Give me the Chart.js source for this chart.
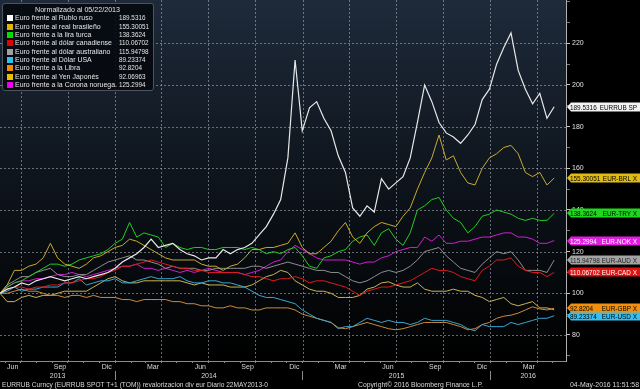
<!DOCTYPE html>
<html lang="es"><head><meta charset="utf-8">
<title>EURRUB revalorizacion</title>
<script src="https://cdn.jsdelivr.net/npm/chart.js@4.4.1/dist/chart.umd.min.js"></script>
<style>
html,body{margin:0;padding:0;background:#000;overflow:hidden}
#wrap{position:relative;width:640px;height:389px;background:#000;font-family:"Liberation Sans",Arial,sans-serif}
#c{position:absolute;left:0;top:0;width:640px;height:389px}
.t{position:absolute;white-space:nowrap;color:#e4e4e4;line-height:10px;transform-origin:0 50%}
#legend{position:absolute;left:2px;top:3px;width:152px;height:88px;background:rgba(6,9,14,0.9);border:1px solid #4c545c;border-radius:3px;box-sizing:border-box}
.sq{position:absolute;width:6px;height:6px}
</style></head>
<body>
<div id="wrap">
<canvas id="c" width="640" height="389"></canvas>
<div id="legend"></div>
</div>
<script>
// ---------- DATA ----------
const dates = ['2013-05-22','2013-06-05','2013-06-19','2013-07-03','2013-07-17','2013-07-31','2013-08-14','2013-08-28','2013-09-11','2013-09-25',
'2013-10-09','2013-10-23','2013-11-06','2013-11-20','2013-12-04','2013-12-18','2014-01-01','2014-01-15','2014-01-29','2014-02-12',
'2014-02-26','2014-03-12','2014-03-26','2014-04-09','2014-04-23','2014-05-07','2014-05-21','2014-06-04','2014-06-18','2014-07-02',
'2014-07-16','2014-07-30','2014-08-13','2014-08-27','2014-09-10','2014-09-24','2014-10-08','2014-10-22','2014-11-05','2014-11-19',
'2014-12-03','2014-12-17','2014-12-31','2015-01-14','2015-01-28','2015-02-11','2015-02-25','2015-03-11','2015-03-25','2015-04-08',
'2015-04-22','2015-05-06','2015-05-20','2015-06-03','2015-06-17','2015-07-01','2015-07-15','2015-07-29','2015-08-12','2015-08-26',
'2015-09-09','2015-09-23','2015-10-07','2015-10-21','2015-11-04','2015-11-18','2015-12-02','2015-12-16','2015-12-30','2016-01-13',
'2016-01-27','2016-02-10','2016-02-24','2016-03-09','2016-03-23','2016-04-06','2016-04-20','2016-05-04'];

const eurRub = [100,102,103,105,104,106,107,108,107,106, 107,108,107,108,109,110,112,115,117,119, 122,126,122,123,124,121,119,118,116,117,
117,121,119,121,122,124,128,132,138,145, 165,212,178,189,192,184,178,166,158,141, 137,142,139,155,150,153,156,165,182,200,
192,182,177,175,172,176,181,193,198,210, 218,225,207,198,191,196,184,189.5316];
const eurBrl = [100,104,111,111,113,114,117,124,117,114, 113,112,114,117,118,120,122,123,126,125, 123,121,119,117,116,116,116,116,114,113,
113,111,113,114,117,121,121,122,122,123, 124,129,122,119,119,122,125,130,134,127, 124,129,132,134,133,132,137,141,150,158,
165,176,164,166,158,153,152,160,165,167, 170,171,167,158,156,158,152,155.30051];
const eurTry = [100,103,105,106,108,110,112,114,114,113, 114,116,117,118,119,121,124,126,134,127, 129,128,127,122,124,122,121,122,122,121,
121,122,122,122,121,122,121,119,120,119, 121,122,118,113,112,117,118,120,121,125, 127,128,123,129,131,126,123,129,140,142,
145,146,140,136,134,129,132,137,138,140, 139,138,136,135,136,135,135,138.3624];
const eurCad = [100,102,103,103,102,103,103,104,104,105, 105,106,107,107,108,110,111,113,113,114, 115,116,115,114,113,112,112,111,111,110,
110,110,110,110,109,108,108,107,106,107, 107,108,107,105,106,106,105,104,103,101, 99,101,102,103,103,104,105,106,108,110,
112,111,111,110,108,107,106,111,113,116, 116,117,113,111,110,110,108,110.06702];
const eurAud = [100,104,106,108,108,110,111,112,109,108, 108,109,109,111,113,115,116,117,118,116, 116,115,114,112,113,112,112,112,111,111,
112,112,112,112,112,113,113,112,113,114, 115,114,113,112,111,111,110,110,108,106, 105,106,108,110,111,110,111,113,116,120,
121,122,118,115,112,111,110,114,117,120, 119,120,116,111,111,111,110,115.94798];
const eurUsd = [100,101,103,101,102,102,103,103,103,105, 105,107,104,105,106,106,107,105,105,106, 107,108,107,107,107,108,106,105,105,106,
106,105,105,104,103,101,99,98,98,97, 96,95,92,90,88,87,86,83,84,84, 86,88,87,86,87,86,86,85,86,88,
87,87,87,86,85,83,82,85,84,84, 84,86,85,86,87,88,88,89.23374];
const eurGbp = [100,100,101,102,101,101,100,99,99,98, 99,99,98,99,98,98,98,97,97,96, 97,97,97,97,96,96,95,95,94,94,
93,93,94,93,93,92,92,93,93,93, 93,92,90,89,88,87,86,83.5,83,84, 85,86,85,84,83,82.5,83,84,85,86,
86,86,86,85,84,82.5,83,85,86,88, 89,89.5,90.5,92,93.5,92.5,92,92.8204];
const eurJpy = [100,96,96,98,99,98,99,99,100,101, 101,101,101,103,105,107,108,106,105,105, 106,106,106,106,106,106,105,104,105,104,
104,104,103,103,103,104,106,108,109,111, 110,106,104,102,101,101,100,98,98,98, 99,102,103,105,105.5,104,103,103,105,102,
101,101,101,102,101,101,99,98,96,97, 98,95,94,95,96,93,93,92.06963];
const eurNok = [100,103,105,106,106,107,107,108,109,109, 110,109,108,109,110,111,112,113,113,114, 112,112,111,112,111,110,111,110,111,112,
111,110,110,110,109,110,111,113,115,116, 120,123,121,119,117,116,116,116,116,115, 114,115,115,117,118,120,121,122,122,127,
125,128,124,124,125,125,126,127,127,128, 129,129,127,127,126,124,124,125.2994];

const series = [eurRub, eurBrl, eurTry, eurCad, eurAud, eurUsd, eurGbp, eurJpy, eurNok];
const seriesNames = ['Euro frente al Rublo ruso','Euro frente al real brasileño','Euro frente a la lira turca','Euro frente al dólar canadiense',
 'Euro frente al dólar australiano','Euro frente al Dólar USA','Euro frente a la Libra','Euro frente al Yen Japonés','Euro frente a la Corona noruega.'];
const tagCodes = ['EURRUB SP','EUR-BRL X','EUR-TRY X','EUR-CAD X','EUR-AUD X','EUR-USD X','EUR-GBP X','','EUR-NOK X'];
const legendTitle = 'Normalizado al 05/22/2013';

// tick labels
const monthNames = ['Ene','Feb','Mar','Abr','May','Jun','Jul','Ago','Sep','Oct','Nov','Dic'];
const labeledMonths = [2,5,8,11];
const gridMonths = [0,3,6,9];
const yearLabels = ['2013','2014','2015','2016'];
const yTickValues = [70,80,90,100,110,120,130,140,150,160,170,180,190,200,210,220,230,240];
const yLabeled = [80,100,120,140,160,180,200,220];

const footerLeft = 'EURRUB Curncy (EURRUB SPOT T+1 (TOM)) revalorizacion div eur  Diario 22MAY2013-0';
const footerMid = 'Copyright\u00A9 2016 Bloomberg Finance L.P.';
const footerRight = '04-May-2016 11:51:58';

// ---------- STYLE ----------
const family = '"Liberation Sans", Arial, sans-serif';
const lineColors = ['#e8e8e8','#c9ab2e','#22cc22','#dc1c1c','#8e8e8e','#3aa6d2','#cf8a38','#c8b455','#d01ed0'];
const keyColors  = ['#ffffff','#e4b400','#00e000','#e80000','#a0a0a0','#2ec0f0','#f08c00','#e6c200','#ee00ee'];
const tagFill = ['#f2f2f2','#e0bc12','#1ed81e','#e01212','#a4a4a4','#36bff0','#f0900c',null,'#e01ee0'];
const tagInk  = ['#000','#000','#000','#fff','#222','#000','#000',null,'#fff'];
const gridCol = 'rgba(165,172,182,0.6)';

const T0 = Date.UTC(2013,4,22), DAY = 86400000;
const dayOf = s => (Date.parse(s + 'T00:00:00Z') - T0) / DAY;
const XMIN = 0, XMAX = 1101;

const monthTicks = [];
for (let y = 2013, m = 5; y < 2016 || (y === 2016 && m <= 4);) {
  monthTicks.push({ value: (Date.UTC(y, m, 1) - T0) / DAY, m });
  m++; if (m > 11) { m = 0; y++; }
}
const yb = [XMIN, dayOf('2014-01-01'), dayOf('2015-01-01'), dayOf('2016-01-01'), XMAX];
const yearTicks = [];
for (let k = 0; k < 4; k++) {
  yearTicks.push({ value: (yb[k] + yb[k + 1]) / 2, label: yearLabels[k], sep: false });
  if (k < 3) yearTicks.push({ value: yb[k + 1], label: '', sep: true });
}

const bgPlugin = {
  id: 'bg',
  beforeDraw(chart) {
    const { ctx, chartArea: a } = chart;
    ctx.save();
    ctx.fillStyle = '#000'; ctx.fillRect(0, 0, chart.width, chart.height);
    const g = ctx.createLinearGradient(0, a.top, 0, a.bottom);
    g.addColorStop(0, '#1e2a3a'); g.addColorStop(0.55, '#0c1219'); g.addColorStop(1, '#000');
    ctx.fillStyle = g; ctx.fillRect(a.left, a.top, a.right - a.left, a.bottom - a.top);
    ctx.restore();
  }
};

const gridPlugin = {
  id: 'gridlines',
  beforeDatasetsDraw(chart) {
    const { ctx, chartArea: a } = chart;
    const xs = chart.scales.x, ys = chart.scales.y;
    ctx.save();
    ctx.strokeStyle = gridCol; ctx.lineWidth = 1; ctx.setLineDash([2, 2]);
    ctx.beginPath();
    yLabeled.forEach(v => {
      const py = Math.round(ys.getPixelForValue(v)) + 0.5;
      ctx.moveTo(a.left, py); ctx.lineTo(a.right, py);
    });
    monthTicks.filter(t => gridMonths.includes(t.m)).forEach(t => {
      const px = Math.round(xs.getPixelForValue(t.value)) + 0.5;
      ctx.moveTo(px, a.top); ctx.lineTo(px, a.bottom);
    });
    ctx.stroke();
    ctx.restore();
  }
};

const tagPlugin = {
  id: 'tags',
  afterDatasetsDraw(chart) {
    const ctx = chart.ctx, ys = chart.scales.y, a = chart.chartArea;
    ctx.save();
    series.forEach((arr, k) => {
      if (!tagCodes[k]) return;
      const v = arr[arr.length - 1];
      const py = Math.round(ys.getPixelForValue(v));
      const x0 = a.right + 1, h = 9, top = py - 4.5;
      ctx.fillStyle = tagFill[k];
      ctx.beginPath();
      ctx.moveTo(x0, py); ctx.lineTo(x0 + 4, top); ctx.lineTo(chart.width, top);
      ctx.lineTo(chart.width, top + h); ctx.lineTo(x0 + 4, top + h); ctx.closePath(); ctx.fill();
      ctx.fillStyle = tagInk[k]; ctx.font = '8px ' + family; ctx.textBaseline = 'middle';
      ctx.save(); ctx.translate(570, py + 0.5); ctx.scale(0.8, 1); ctx.textAlign = 'left'; ctx.fillText(String(v), 0, 0); ctx.restore();
      ctx.save(); ctx.translate(637, py + 0.5); ctx.scale(0.8, 1); ctx.textAlign = 'right'; ctx.fillText(tagCodes[k], 0, 0); ctx.restore();
    });
    ctx.restore();
  }
};

Chart.defaults.font.family = family;

const datasets = series.map((arr, k) => ({
  label: seriesNames[k],
  data: dates.map((d, i) => ({ x: dayOf(d), y: arr[i] })),
  borderColor: lineColors[k],
  borderWidth: k === 0 ? 1.2 : 1,
  pointRadius: 0,
  tension: 0,
  fill: false
}));

new Chart(document.getElementById('c'), {
  type: 'line',
  data: { datasets },
  plugins: [bgPlugin, gridPlugin, tagPlugin],
  options: {
    responsive: false, animation: false, devicePixelRatio: 1,
    layout: { padding: { left: 0, right: 0, top: 0, bottom: 8 } },
    plugins: { legend: { display: false }, tooltip: { enabled: false } },
    scales: {
      x: {
        type: 'linear', min: XMIN, max: XMAX, position: 'bottom', weight: 0,
        afterBuildTicks: s => { s.ticks = monthTicks.map(t => ({ value: t.value })); },
        afterFit: s => { s.height = 10; s.paddingLeft = 0; s.paddingRight = 0; },
        ticks: {
          autoSkip: false, maxRotation: 0, minRotation: 0, padding: 0, labelOffset: 7.5,
          color: '#d8d8d8', font: { size: 7, family },
          callback: (v, i) => labeledMonths.includes(monthTicks[i].m) ? monthNames[monthTicks[i].m] : ''
        },
        grid: { drawOnChartArea: false, drawTicks: true, tickLength: 2, tickColor: '#8a8a8a' },
        border: { display: true, color: '#8a8a8a' }
      },
      x2: {
        type: 'linear', min: XMIN, max: XMAX, position: 'bottom', weight: 1,
        afterBuildTicks: s => { s.ticks = yearTicks.map(t => ({ value: t.value })); },
        afterFit: s => { s.height = 10; s.paddingLeft = 0; s.paddingRight = 0; },
        ticks: {
          autoSkip: false, maxRotation: 0, minRotation: 0, padding: -8.5,
          color: '#d8d8d8', font: { size: 7, family },
          callback: (v, i) => yearTicks[i].label
        },
        grid: {
          drawOnChartArea: false, drawTicks: true, tickLength: 9,
          tickColor: c => (yearTicks[c.index] && yearTicks[c.index].sep) ? '#8a8a8a' : 'rgba(0,0,0,0)'
        },
        border: { display: false }
      },
      y: {
        position: 'right', min: 67.5, max: 240.8,
        afterBuildTicks: s => { s.ticks = yTickValues.map(v => ({ value: v })); },
        afterFit: s => { s.width = 74; s.paddingTop = 0; s.paddingBottom = 0; },
        ticks: {
          autoSkip: false, padding: 2, color: '#e0e0e0', font: { size: 7, family },
          callback: v => yLabeled.includes(v) ? String(v) : ''
        },
        grid: {
          drawOnChartArea: false, drawTicks: true, tickLength: 4,
          tickColor: c => (c.tick && yLabeled.includes(c.tick.value)) ? '#c8c8c8' : '#7a7a7a'
        },
        border: { display: true, color: '#b0b0b0' }
      }
    }
  }
});

// ---------- HTML TEXT (legend + footer) ----------
const wrap = document.getElementById('wrap');
function addText(str, left, cy, size, color) {
  const el = document.createElement('div');
  el.className = 't'; el.textContent = str;
  el.style.left = left + 'px'; el.style.top = (cy - 5) + 'px';
  el.style.fontSize = size + 'px'; if (color) el.style.color = color;
  wrap.appendChild(el);
  return el;
}
function fit(el, w) { const r = el.getBoundingClientRect().width; el.style.transform = 'scaleX(' + (w / r) + ')'; }

const title = addText(legendTitle, 35, 10, 8); fit(title, 85);
const rowEls = [], valEls = [];
seriesNames.forEach((n, k) => {
  const cy = 18.3 + k * 8.33;
  const sq = document.createElement('div'); sq.className = 'sq';
  sq.style.left = '7px'; sq.style.top = (cy - 3) + 'px'; sq.style.background = keyColors[k];
  wrap.appendChild(sq);
  rowEls.push(addText(n, 15, cy, 8));
  const arr = series[k];
  valEls.push(addText(String(arr[arr.length - 1]), 119, cy, 8));
});
const sRow = 102 / rowEls[8].getBoundingClientRect().width;
rowEls.forEach(e => e.style.transform = 'scaleX(' + sRow + ')');
const sVal = 30 / valEls[1].getBoundingClientRect().width;
valEls.forEach(e => e.style.transform = 'scaleX(' + sVal + ')');

fit(addText(footerLeft, 2, 385, 8, '#d8d8d8'), 266);
fit(addText(footerMid, 358, 385, 8, '#d8d8d8'), 125);
fit(addText(footerRight, 570, 385, 8, '#d8d8d8'), 69);
</script>
</body></html>
